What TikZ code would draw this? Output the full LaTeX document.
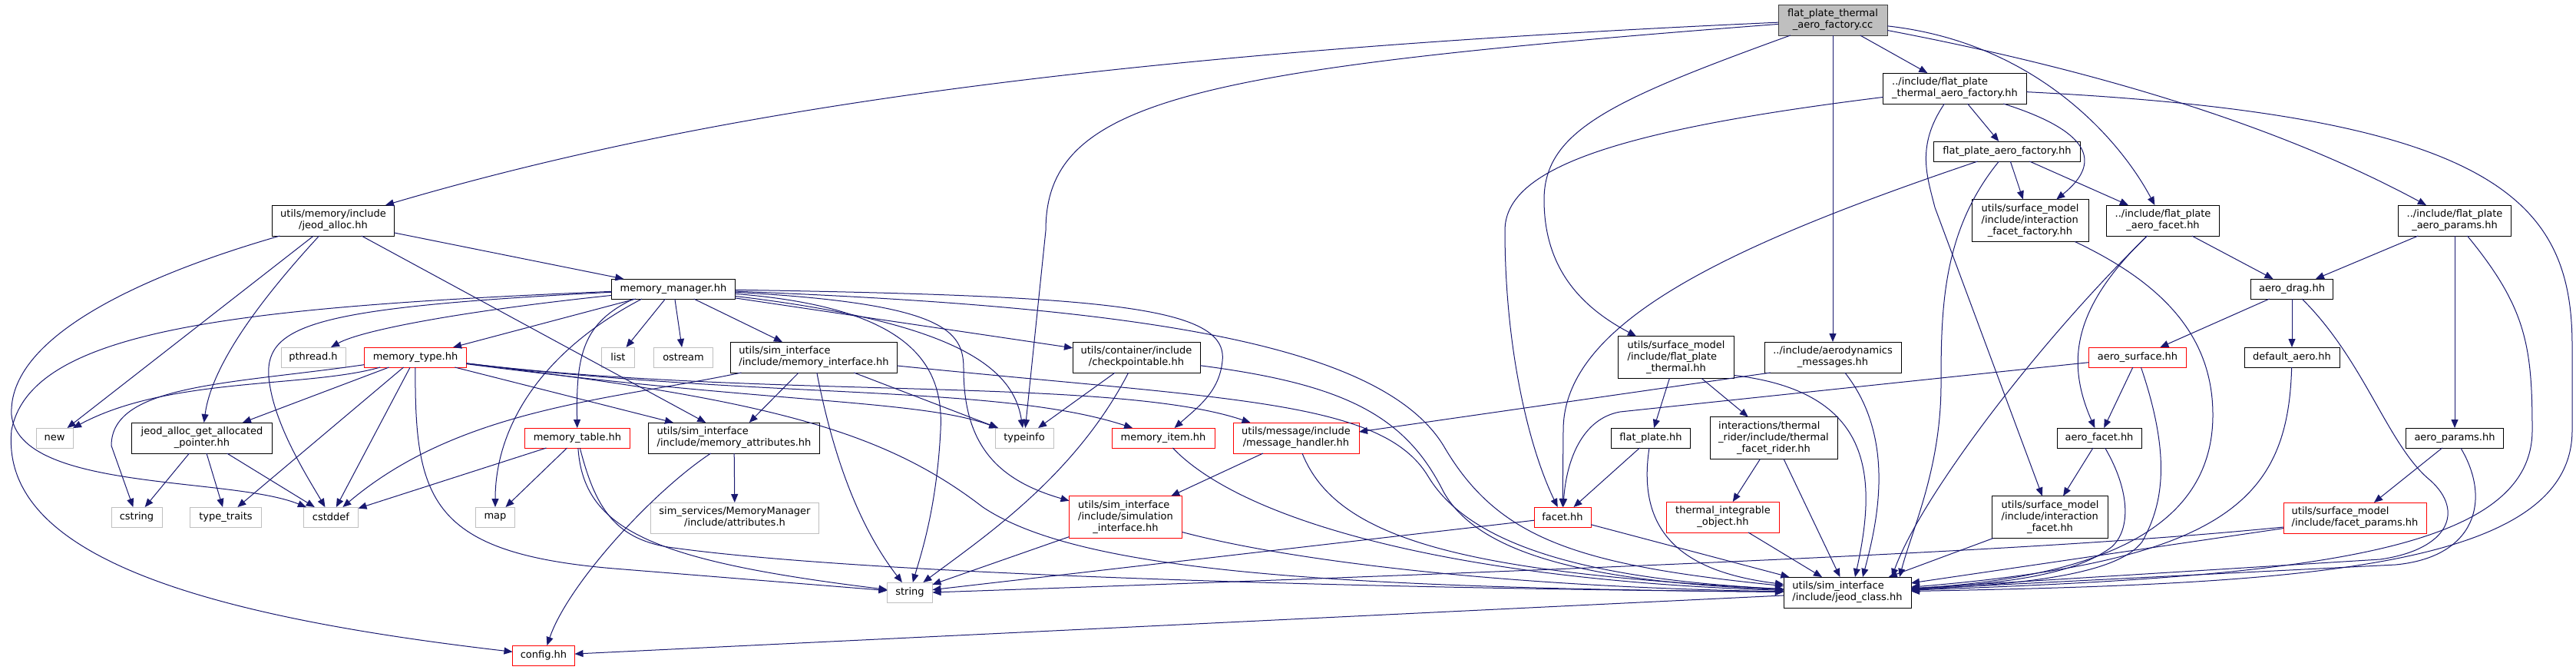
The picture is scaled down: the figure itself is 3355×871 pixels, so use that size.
\documentclass[tikz,border=0pt]{standalone}
\usepackage{fontspec}
\setmainfont{DejaVu Sans}
\usetikzlibrary{arrows.meta}
\definecolor{edgeblue}{HTML}{191970}
\definecolor{leafgray}{HTML}{BFBFBF}
\definecolor{rootfill}{HTML}{BFBFBF}
\definecolor{boxred}{HTML}{FF0000}
\newcommand{\twol}[2]{\begin{tabular}{@{}l@{}}#1\\\multicolumn{1}{@{}c@{}}{#2}\end{tabular}}
\tikzset{
  box/.style={draw=black, fill=white, line width=1pt, inner sep=0pt, outer sep=0pt, font=\fontsize{13}{15}\selectfont, minimum height=26pt},
  redbox/.style={box, draw=boxred},
  leafbox/.style={box, draw=leafgray},
  rootbox/.style={box, fill=rootfill, draw=black!75},
  dep/.style={draw=edgeblue, line width=1pt, -{Triangle[length=11pt,width=9pt]}},
}
\begin{document}
\begin{tikzpicture}[x=1pt,y=-1pt]
\useasboundingbox (0,0) rectangle (3355,871);
\fill[white] (0,0) rectangle (3355,871);
% ---- nodes ----
\node[rootbox,minimum width=142pt,minimum height=40pt] (root) at (2387,26) {\twol{flat\_plate\_thermal}{\_aero\_factory.cc}};
\node[box,minimum width=187pt,minimum height=40pt] (ftaf) at (2546,115) {\twol{../include/flat\_plate}{\_thermal\_aero\_factory.hh}};
\node[box,minimum width=191pt] (fpaf) at (2614,197) {flat\_plate\_aero\_factory.hh};
\node[box,minimum width=152pt,minimum height=55pt] (iff) at (2644,287) {\twol{utils/surface\_model\\/include/interaction}{\_facet\_factory.hh}};
\node[box,minimum width=147pt,minimum height=40pt] (fpafacet) at (2817,287) {\twol{../include/flat\_plate}{\_aero\_facet.hh}};
\node[box,minimum width=147pt,minimum height=40pt] (fpaparams) at (3197,287) {\twol{../include/flat\_plate}{\_aero\_params.hh}};
\node[box,minimum width=107pt] (aerodrag) at (2985,376) {aero\_drag.hh};
\node[redbox,minimum width=127pt] (aerosurface) at (2784,465) {aero\_surface.hh};
\node[box,minimum width=124pt] (defaultaero) at (2985,465) {default\_aero.hh};
\node[box,minimum width=110pt] (aerofacet) at (2734,570) {aero\_facet.hh};
\node[box,minimum width=127pt] (aeroparams) at (3197,570) {aero\_params.hh};
\node[box,minimum width=151pt,minimum height=55pt] (interfacet) at (2670,673) {\twol{utils/surface\_model\\/include/interaction}{\_facet.hh}};
\node[redbox,minimum width=186pt,minimum height=40pt] (facetparams) at (3067,674) {\twol{utils/surface\_model}{/include/facet\_params.hh}};
\node[box,minimum width=166pt,minimum height=40pt] (jeodclass) at (2406,771) {\twol{utils/sim\_interface}{/include/jeod\_class.hh}};
\node[box,minimum width=151pt,minimum height=55pt] (fpthermal) at (2183,465) {\twol{utils/surface\_model\\/include/flat\_plate}{\_thermal.hh}};
\node[box,minimum width=178pt,minimum height=40pt] (aeromsg) at (2387,465) {\twol{../include/aerodynamics}{\_messages.hh}};
\node[redbox,minimum width=164pt,minimum height=40pt] (msghandler) at (1688,570) {\twol{utils/message/include}{/message\_handler.hh}};
\node[box,minimum width=103pt] (flatplate) at (2150,570) {flat\_plate.hh};
\node[box,minimum width=166pt,minimum height=55pt] (tfrider) at (2310,570) {\twol{interactions/thermal\\\_rider/include/thermal}{\_facet\_rider.hh}};
\node[redbox,minimum width=74pt] (facet) at (2035,673) {facet.hh};
\node[redbox,minimum width=147pt,minimum height=40pt] (tio) at (2244,673) {\twol{thermal\_integrable}{\_object.hh}};
\node[box,minimum width=159pt,minimum height=40pt] (jeodalloc) at (434,287) {\twol{utils/memory/include}{/jeod\_alloc.hh}};
\node[box,minimum width=161pt] (memmgr) at (877,376) {memory\_manager.hh};
\node[leafbox,minimum width=84pt] (pthread) at (408,465) {pthread.h};
\node[redbox,minimum width=133pt] (memtype) at (541,465) {memory\_type.hh};
\node[leafbox,minimum width=43pt] (list) at (805,465) {list};
\node[leafbox,minimum width=77pt] (ostream) at (890,465) {ostream};
\node[box,minimum width=217pt,minimum height=40pt] (meminterface) at (1060,465) {\twol{utils/sim\_interface}{/include/memory\_interface.hh}};
\node[box,minimum width=166pt,minimum height=40pt] (checkpointable) at (1480,465) {\twol{utils/container/include}{/checkpointable.hh}};
\node[leafbox,minimum width=48pt] (new) at (71,570) {new};
\node[box,minimum width=183pt,minimum height=40pt] (jagap) at (263,570) {\twol{jeod\_alloc\_get\_allocated}{\_pointer.hh}};
\node[redbox,minimum width=137pt] (memtable) at (752,570) {memory\_table.hh};
\node[box,minimum width=223pt,minimum height=40pt] (memattr) at (956,570) {\twol{utils/sim\_interface}{/include/memory\_attributes.hh}};
\node[leafbox,minimum width=76pt] (typeinfo) at (1334,570) {typeinfo};
\node[redbox,minimum width=134pt] (memitem) at (1515,570) {memory\_item.hh};
\node[leafbox,minimum width=66pt] (cstring) at (178,673) {cstring};
\node[leafbox,minimum width=93pt] (typetraits) at (294,673) {type\_traits};
\node[leafbox,minimum width=71pt] (cstddef) at (431,673) {cstddef};
\node[leafbox,minimum width=51pt] (map) at (645,673) {map};
\node[leafbox,minimum width=219pt,minimum height=40pt] (attrh) at (957,674) {\twol{sim\_services/MemoryManager}{/include/attributes.h}};
\node[redbox,minimum width=147pt,minimum height=55pt] (siminterface) at (1466,673) {\twol{utils/sim\_interface\\/include/simulation}{\_interface.hh}};
\node[leafbox,minimum width=59pt] (string) at (1185,771) {string};
\node[redbox,minimum width=81pt] (config) at (708,853) {config.hh};
% ---- edges: root ----
\draw[dep] (root) -- (ftaf);
\draw[dep] (root) -- (aeromsg);
\draw[dep] (root) .. controls (1400,70) and (900,150) .. (jeodalloc);
\draw[dep] (root) .. controls (1550,90) and (1362,130) .. (1362,300) -- (typeinfo);
\draw[dep] (root) .. controls (2100,130) and (2011,170) .. (2011,260) .. controls (2011,350) and (2060,400) .. (fpthermal);
\draw[dep] (root) .. controls (2650,55) and (2760,180) .. (fpafacet);
\draw[dep] (root) .. controls (2750,95) and (2980,170) .. (fpaparams);
% ---- ftaf ----
\draw[dep] (ftaf) -- (fpaf);
\draw[dep] (ftaf) .. controls (2720,170) and (2740,210) .. (iff);
\draw[dep] (ftaf) .. controls (2100,170) and (1960,220) .. (1960,300) .. controls (1960,450) and (1990,580) .. (facet);
\draw[dep] (ftaf) .. controls (2495,190) and (2510,230) .. (2520,270) -- (interfacet);
\draw[dep] (ftaf) .. controls (3250,150) and (3350,260) .. (3350,450) -- (3350,560) .. controls (3350,740) and (3000,760) .. (jeodclass);
% ---- fpaf ----
\draw[dep] (fpaf) -- (iff);
\draw[dep] (fpaf) -- (fpafacet);
\draw[dep] (fpaf) .. controls (2250,320) and (2036,420) .. (2036,560) -- (facet);
\draw[dep] (fpaf) .. controls (2530,300) and (2528,400) .. (2528,500) .. controls (2528,610) and (2490,690) .. ([xshift=68pt]jeodclass.north);
\draw[dep] (iff) .. controls (2820,370) and (2882,440) .. (2882,540) .. controls (2882,680) and (2750,750) .. (jeodclass);
% ---- facet / params ----
\draw[dep] (fpafacet) -- (aerodrag);
\draw[dep] (fpafacet) .. controls (2700,400) and (2690,470) .. (aerofacet);
\draw[dep] (fpafacet) .. controls (2650,450) and (2500,650) .. ([xshift=58pt]jeodclass.north);
\draw[dep] (fpaparams) -- (aerodrag);
\draw[dep] (fpaparams) -- (aeroparams);
\draw[dep] (fpaparams) .. controls (3290,400) and (3298,450) .. (3298,560) .. controls (3298,720) and (3000,750) .. (jeodclass);
\draw[dep] (aerodrag) -- (aerosurface);
\draw[dep] (aerodrag) -- (defaultaero);
\draw[dep] (aerodrag) .. controls (3080,470) and (3110,580) .. (3165,625) .. controls (3210,665) and (3190,715) .. (3100,728) -- (jeodclass);
\draw[dep] (aeroparams) -- (facetparams);
\draw[dep] (aeroparams) .. controls (3245,650) and (3225,725) .. (3120,735) -- (jeodclass);
\draw[dep] (aerosurface) -- (aerofacet);
\draw[dep] (aerosurface) -- (2110,536) .. controls (2060,545) and (2040,600) .. (facet);
\draw[dep] (aerosurface) .. controls (2830,600) and (2815,660) .. (2790,705) .. controls (2760,745) and (2650,760) .. (jeodclass);
\draw[dep] (defaultaero) .. controls (2980,650) and (2900,730) .. (jeodclass);
\draw[dep] (aerofacet) -- (interfacet);
\draw[dep] (aerofacet) .. controls (2775,640) and (2775,690) .. (2750,712) .. controls (2700,750) and (2600,760) .. (jeodclass);
\draw[dep] (interfacet) -- (jeodclass);
\draw[dep] (facetparams) -- (jeodclass);
\draw[dep] ([yshift=-12pt]facetparams.west) .. controls (2750,708) and (2400,730) .. (string.east);
% ---- thermal / messages ----
\draw[dep] (aeromsg) .. controls (2470,570) and (2445,680) .. ([xshift=20pt]jeodclass.north);
\draw[dep] ([xshift=-81pt]aeromsg.south) -- ([yshift=8pt]msghandler.east);
\draw[dep] (fpthermal) -- (flatplate);
\draw[dep] (fpthermal) -- (tfrider);
\draw[dep] ([yshift=4pt]fpthermal.south east) .. controls (2440,510) and (2445,620) .. ([xshift=10pt]jeodclass.north);
\draw[dep] (flatplate) -- (facet);
\draw[dep] (flatplate) .. controls (2130,700) and (2200,745) .. (jeodclass);
\draw[dep] (tfrider) -- (tio);
\draw[dep] (tfrider) -- (jeodclass);
\draw[dep] (tio) -- (jeodclass);
\draw[dep] (facet) -- (jeodclass);
\draw[dep] (facet) -- (string);
\draw[dep] (msghandler) -- (siminterface);
\draw[dep] (msghandler) .. controls (1740,700) and (1900,745) .. (jeodclass);
\draw[dep] (siminterface) -- (string);
\draw[dep] (siminterface) .. controls (1700,735) and (2000,765) .. (jeodclass);
\draw[dep] (memitem) .. controls (1620,680) and (1900,755) .. (jeodclass);
% ---- checkpointable / memory interface ----
\draw[dep] (checkpointable) -- (typeinfo);
\draw[dep] (checkpointable) .. controls (1400,620) and (1280,700) .. (string);
\draw[dep] (checkpointable) .. controls (1750,500) and (1830,540) .. (1880,640) .. controls (1930,730) and (2100,758) .. (jeodclass);
\draw[dep] (meminterface) -- (memattr);
\draw[dep] (meminterface) -- (typeinfo);
\draw[dep] (meminterface) .. controls (1090,620) and (1130,700) .. (string);
\draw[dep] (meminterface) .. controls (800,520) and (600,530) .. (cstddef);
\draw[dep] (meminterface) .. controls (1600,520) and (1800,520) .. (1860,620) .. controls (1920,720) and (2100,755) .. (jeodclass);
\draw[dep] (memattr) -- (attrh);
\draw[dep] (memattr) .. controls (850,640) and (740,760) .. (config);
\draw[dep] (jeodclass) -- (config);
% ---- memory manager ----
\draw[dep] (memmgr) -- (list);
\draw[dep] (memmgr) -- (ostream);
\draw[dep] (memmgr) -- (meminterface);
\draw[dep] (memmgr) -- (memtype);
\draw[dep] (memmgr) -- (checkpointable);
\draw[dep] (memmgr) .. controls (600,405) and (470,430) .. (pthread);
\draw[dep] (memmgr) .. controls (420,400) and (345,420) .. (350,490) .. controls (355,550) and (400,620) .. (cstddef);
\draw[dep] ([xshift=-52pt]memmgr.south) .. controls (760,420) and (750,460) .. (memtable);
\draw[dep] ([xshift=-41pt]memmgr.south) .. controls (700,460) and (645,560) .. (map);
\draw[dep] (memmgr) .. controls (300,400) and (40,430) .. (15,560) .. controls (0,720) and (250,800) .. (config);
\draw[dep] (memmgr) .. controls (1250,420) and (1320,480) .. (typeinfo);
\draw[dep] (memmgr) .. controls (1180,400) and (1230,470) .. (1225,560) .. controls (1220,660) and (1200,720) .. (string);
\draw[dep] (memmgr) .. controls (1230,395) and (1255,430) .. (1255,480) .. controls (1255,580) and (1300,625) .. (siminterface);
\draw[dep] (memmgr) .. controls (1450,385) and (1600,400) .. (1592,470) .. controls (1588,510) and (1560,530) .. (memitem);
\draw[dep] (memmgr) .. controls (1500,400) and (1800,450) .. (1880,580) .. controls (1950,700) and (2050,735) .. (jeodclass);
% ---- jeod_alloc ----
\draw[dep] (jeodalloc) -- (memmgr);
\draw[dep] (jeodalloc) -- (new);
\draw[dep] (jeodalloc) -- (memattr);
\draw[dep] (jeodalloc) .. controls (330,400) and (275,480) .. (jagap);
\draw[dep] (jeodalloc) .. controls (180,360) and (10,440) .. (15,540) .. controls (25,640) and (300,620) .. (cstddef);
% ---- memory_type ----
\draw[dep] (memtype) -- (jagap);
\draw[dep] (memtype) -- (typetraits);
\draw[dep] (memtype) -- (cstddef);
\draw[dep] (memtype) -- (memattr);
\draw[dep] (memtype) .. controls (400,505) and (220,490) .. (new);
\draw[dep] (memtype) .. controls (300,500) and (145,500) .. (145,580) -- (cstring);
\draw[dep] (memtype) .. controls (540,650) and (560,720) .. (800,740) -- (string);
\draw[dep] (memtype) .. controls (1000,520) and (1450,490) .. (msghandler);
\draw[dep] (memtype) .. controls (1000,520) and (1300,500) .. (memitem);
\draw[dep] (memtype) .. controls (1000,525) and (1200,520) .. (typeinfo);
\draw[dep] (memtype) .. controls (1000,520) and (1150,560) .. (1280,660) .. controls (1400,740) and (1700,765) .. (jeodclass);
% ---- memory_table ----
\draw[dep] (memtable) -- (cstddef);
\draw[dep] (memtable) -- (map);
\draw[dep] (memtable) .. controls (760,690) and (850,730) .. (string);
\draw[dep] (memtable) .. controls (775,660) and (800,700) .. (870,712) .. controls (1100,745) and (1700,765) .. (jeodclass);
% ---- jeod_alloc_get_allocated_pointer ----
\draw[dep] (jagap) -- (cstring);
\draw[dep] (jagap) -- (typetraits);
\draw[dep] (jagap) -- (cstddef);
\end{tikzpicture}
\end{document}
